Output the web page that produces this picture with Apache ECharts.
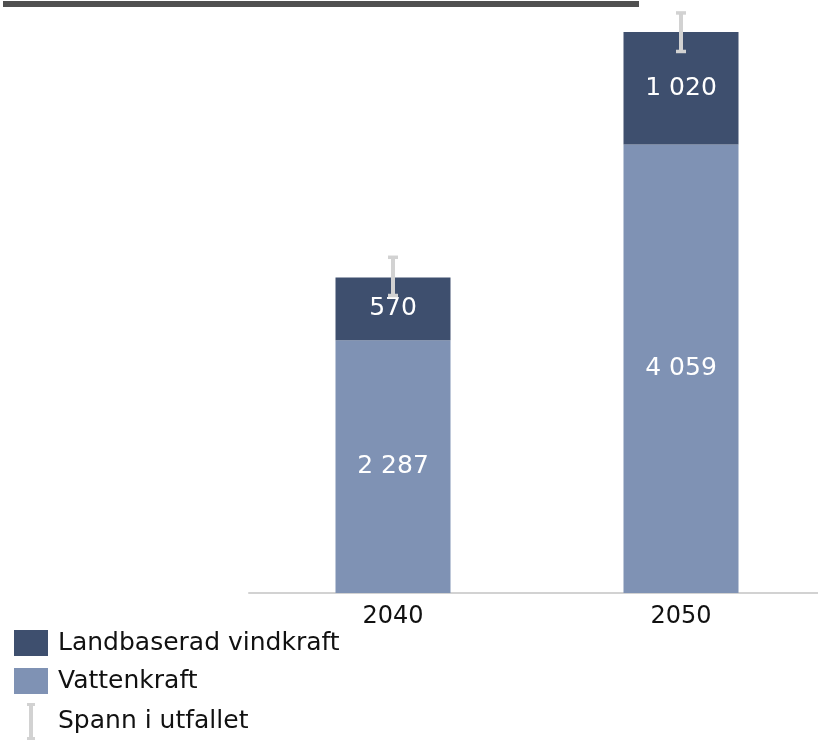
<!DOCTYPE html>
<html>
<head>
<meta charset="utf-8">
<script src="https://cdn.jsdelivr.net/npm/echarts@6/dist/echarts.min.js"></script>
<style>
  html, body { margin: 0; padding: 0; background: #ffffff; }
  #chart { width: 818px; height: 741px; }
</style>
</head>
<body>
<div id="chart"></div>
<script>
// Elproduktion per år, fördelat på kraftslag
const years = ['2040', '2050'];
const vattenkraft = [2287, 4059];
const vindkraft = [570, 1020];
// Spann i utfallet (lägsta / högsta totalvärde)
const spannLow = [2693, 4902];
const spannHigh = [3039, 5251];

const FONT = '"DejaVu Sans", Verdana, sans-serif';
const DARK = '#3e4f6e';
const LIGHT = '#7f92b4';
const SPAN = '#d2d2d2';

const fmt = v => String(v).replace(/\B(?=(\d{3})+(?!\d))/g, ' ');

const spannData = years.map((y, i) => [i, spannLow[i], spannHigh[i]]);

// I-beam legend symbol inside a 34x37 box (corner specks keep the box size)
const SPAN_ICON = 'path://M0,0L0.01,0L0,0.01Z M34,37L33.99,37L34,36.99Z ' +
  'M13,0H21V3H19V34H21V37H13V34H15V3H13Z';

const chart = echarts.init(document.getElementById('chart'), null, { renderer: 'canvas' });

chart.setOption({
  animation: false,
  backgroundColor: '#ffffff',
  graphic: [{
    type: 'rect',
    shape: { x: 3, y: 1, width: 636, height: 6 },
    style: { fill: '#505050' }
  }],
  grid: { left: 249, width: 576, top: 0, bottom: 148, containLabel: false, outerBoundsMode: 'none' },
  xAxis: {
    type: 'category',
    data: years,
    axisLine: { show: true, lineStyle: { color: SPAN, width: 2 } },
    axisTick: { show: false },
    axisLabel: { color: '#111111', fontFamily: FONT, fontSize: 24, margin: 12 }
  },
  yAxis: {
    type: 'value',
    min: 0,
    max: 5368,
    show: false,
    splitLine: { show: false }
  },
  legend: [{
    orient: 'vertical',
    left: 14,
    top: 630,
    padding: 0,
    itemWidth: 34,
    itemHeight: 26,
    itemGap: 12,
    icon: 'rect',
    textStyle: { color: '#111111', fontFamily: FONT, fontSize: 25, padding: [0, 0, 0, 5] },
    data: ['Landbaserad vindkraft', 'Vattenkraft']
  }, {
    orient: 'vertical',
    left: 14,
    top: 703,
    padding: 0,
    itemWidth: 34,
    itemHeight: 37,
    textStyle: { color: '#111111', fontFamily: FONT, fontSize: 25, padding: [0, 0, 0, 5] },
    data: [{
      name: 'Spann i utfallet',
      icon: SPAN_ICON,
      itemStyle: { color: SPAN }
    }]
  }],
  series: [{
    name: 'Vattenkraft',
    type: 'bar',
    stack: 'total',
    barWidth: 115,
    data: vattenkraft,
    itemStyle: { color: LIGHT },
    label: {
      show: true,
      position: 'inside',
      color: '#ffffff',
      fontFamily: FONT,
      fontSize: 25,
      formatter: p => fmt(p.value)
    }
  }, {
    name: 'Landbaserad vindkraft',
    type: 'bar',
    stack: 'total',
    barWidth: 115,
    data: vindkraft,
    itemStyle: { color: DARK },
    label: {
      show: true,
      position: 'inside',
      color: '#ffffff',
      fontFamily: FONT,
      fontSize: 25,
      formatter: p => fmt(p.value)
    }
  }, {
    name: 'Spann i utfallet',
    type: 'custom',
    data: spannData,
    encode: { x: 0, y: [1, 2] },
    z: 10,
    itemStyle: { color: SPAN },
    renderItem: (params, api) => {
      const idx = api.value(0);
      const lo = api.coord([idx, api.value(1)]);
      const hi = api.coord([idx, api.value(2)]);
      const x = hi[0];
      const capW = 10, capH = 3.5, lineW = 4;
      const style = { fill: SPAN };
      return {
        type: 'group',
        children: [
          { type: 'rect', shape: { x: x - lineW / 2, y: hi[1], width: lineW, height: lo[1] - hi[1] }, style },
          { type: 'rect', shape: { x: x - capW / 2, y: hi[1] - capH / 2, width: capW, height: capH }, style },
          { type: 'rect', shape: { x: x - capW / 2, y: lo[1] - capH / 2, width: capW, height: capH }, style }
        ]
      };
    }
  }]
});
</script>
</body>
</html>
